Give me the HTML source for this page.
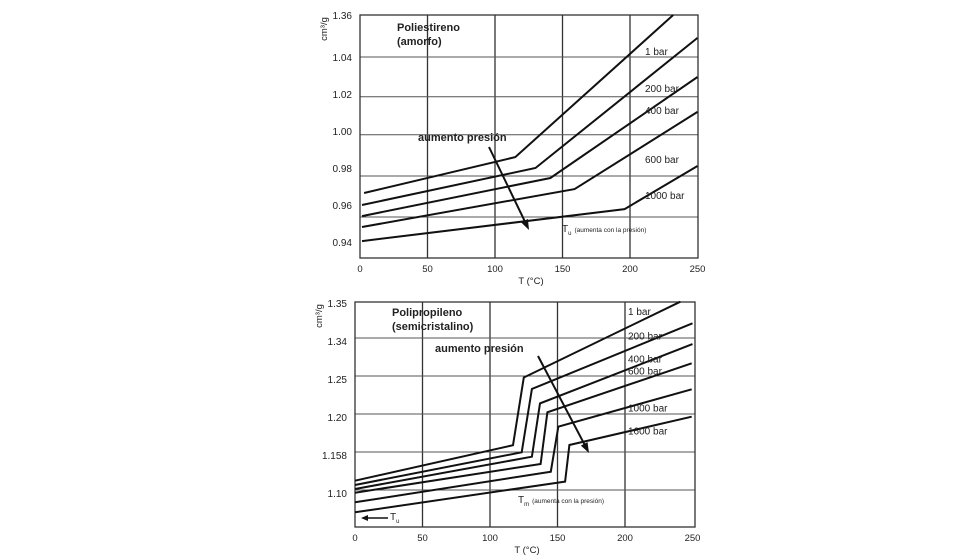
<!DOCTYPE html>
<html><head><meta charset="utf-8"><style>
html,body{margin:0;padding:0;background:#fff;}
svg{display:block;font-family:"Liberation Sans",sans-serif;}
</style></head><body>
<svg id="c" width="980" height="560" viewBox="0 0 980 560"></svg>
<script>
// ---- Top chart (Poliestireno) data ----
const psXTicks = [0, 50, 100, 150, 200, 250];
const psYTickValues = [0.94, 0.96, 0.98, 1.00, 1.02, 1.04, 1.0627];
const psYTickLabels = ["0.94", "0.96", "0.98", "1.00", "1.02", "1.04", "1.36"];
const psYGrid = [0.9535, 0.9757, 0.998, 1.0185, 1.04];
const psSeriesNames = ["1 bar", "200 bar", "400 bar", "600 bar", "1000 bar"];
const psSeriesT = [[3, 115, 232], [1.5, 130, 250], [1.5, 141, 250], [1.5, 159, 250], [1.5, 196, 250]];
const psSeriesV = [[0.9665, 0.9859, 1.0627], [0.960, 0.980, 1.0503], [0.954, 0.9746, 1.0292], [0.9481, 0.9686, 1.0103], [0.9405, 0.9578, 0.9811]];
const psLabelV = [1.0432, 1.0232, 1.0113, 0.9849, 0.9654];

// ---- Bottom chart (Polipropileno) data ----
const ppXTicks = [0, 50, 100, 150, 200, 250];
const ppYTickValues = [1.10, 1.15, 1.20, 1.25, 1.30, 1.35];
const ppYTickLabels = ["1.10", "1.158", "1.20", "1.25", "1.34", "1.35"];
const ppSeriesNames = ["1 bar", "200 bar", "400 bar", "600 bar", "1000 bar", "1600 bar"];
const ppSeriesT = [[0, 117, 125, 241], [0, 123.5, 131, 250], [0, 131, 137, 250], [0, 137.5, 142.5, 249.4], [0, 145, 150.6, 249.4], [0, 155.6, 158.8, 249.4]];
const ppSeriesV = [[1.1122, 1.159, 1.248, 1.3478], [1.1066, 1.1496, 1.2329, 1.3193], [1.1013, 1.1438, 1.214, 1.292], [1.0965, 1.1342, 1.2022, 1.2667], [1.0838, 1.1241, 1.1833, 1.2325], [1.0707, 1.111, 1.1592, 1.1965]];
const ppLabelV = [1.3352, 1.3036, 1.2733, 1.2575, 1.2088, 1.178];

const svg = document.getElementById('c');
const NS = 'http://www.w3.org/2000/svg';
function mk(tag, attrs, parent, text) {
  const e = document.createElementNS(NS, tag);
  for (const k in attrs) e.setAttribute(k, attrs[k]);
  if (text !== undefined) e.textContent = text;
  (parent || svg).appendChild(e);
  return e;
}

function drawChart(cfg) {
  const g = mk('g', {});
  
  
  const x = t => cfg.x0 + t * cfg.kx;
  const y = cfg.y;
  // gridlines
  cfg.xTicks.slice(1, -1).forEach(t => {
    const l = mk('line', {x1: x(t), x2: x(t), y1: cfg.top, y2: cfg.bottom, stroke: '#333', 'stroke-width': 1.3}, g);
    
    
  });
  cfg.yGrid.forEach(v => {
    const l = mk('line', {x1: cfg.left, x2: cfg.right, y1: y(v), y2: y(v), stroke: '#555', 'stroke-width': 1}, g);
    
    
  });
  const box = mk('rect', {x: cfg.left, y: cfg.top, width: cfg.right - cfg.left, height: cfg.bottom - cfg.top, fill: 'none', stroke: '#333', 'stroke-width': 1.3}, g);
  
  
  // x ticks
  cfg.xTicks.forEach(t => {
    const tx = mk('text', {x: x(t), y: cfg.xLabelY, 'font-size': 9.5, 'text-anchor': 'middle', fill: '#222'}, g, String(t));
    
    
  });
  const xt = mk('text', {x: (cfg.left + cfg.right) / 2 + 2, y: cfg.xLabelY + 12, 'font-size': 9.5, 'text-anchor': 'middle', fill: '#222'}, g, 'T (°C)');
  
  
  // y ticks
  cfg.yTickValues.forEach((v, i) => {
    const ty = mk('text', {x: cfg.left - 8, y: y(v) + cfg.yLabelDy, 'font-size': 10, 'text-anchor': 'end', fill: '#222'}, g, cfg.yTickLabels[i]);
    
    
  });
  const yt = mk('text', {x: 0, y: 0, 'font-size': 9.5, 'text-anchor': 'middle', fill: '#222', transform: `translate(${cfg.left - 33},${cfg.top + 14}) rotate(-90)`}, g);
  
  
  yt.textContent = 'cm³/g';
  // series
  cfg.seriesT.forEach((ts, i) => {
    const pts = ts.map((t, j) => x(t).toFixed(1) + ',' + y(cfg.seriesV[i][j]).toFixed(1)).join(' ');
    const p = mk('polyline', {points: pts, fill: 'none', stroke: '#111', 'stroke-width': 2, 'stroke-linejoin': 'miter'}, g);
    
    
    const lb = mk('text', {x: cfg.labelX, y: y(cfg.labelV[i]) + 4, 'font-size': 10, fill: '#222'}, g, cfg.seriesNames[i]);
    
    
  });
  // titles
  const t1 = mk('text', {x: cfg.titleX, y: cfg.titleY, 'font-size': 11, 'font-weight': 'bold', fill: '#222'}, g, cfg.title1);
  
  
  const t2 = mk('text', {x: cfg.titleX, y: cfg.titleY + 14, 'font-size': 11, 'font-weight': 'bold', fill: '#222'}, g, cfg.title2);
  
  
  // arrow annotation
  const ap = mk('text', {x: cfg.apX, y: cfg.apY, 'font-size': 11, 'font-weight': 'bold', fill: '#222'}, g, 'aumento presión');
  
  
  const [ax1, ay1, ax2, ay2] = cfg.arrow;
  const ang = Math.atan2(ay2 - ay1, ax2 - ax1);
  const al = mk('line', {x1: ax1, y1: ay1, x2: ax2 - 7 * Math.cos(ang), y2: ay2 - 7 * Math.sin(ang), stroke: '#111', 'stroke-width': 2}, g);
  
  
  const h = [[ax2, ay2], [ax2 - 11 * Math.cos(ang - 0.35), ay2 - 11 * Math.sin(ang - 0.35)], [ax2 - 11 * Math.cos(ang + 0.35), ay2 - 11 * Math.sin(ang + 0.35)]];
  const ah = mk('polygon', {points: h.map(p => p.join(',')).join(' '), fill: '#111'}, g);
  
  
  // transition note
  const tn = mk('text', {x: cfg.noteX, y: cfg.noteY, 'font-size': 10, fill: '#222'}, g);
  
  
  const a = mk('tspan', {}, tn, 'T');
  const b = mk('tspan', {'font-size': 6, dy: 3}, tn, cfg.noteSub);
  const c = mk('tspan', {'font-size': 6.5, dy: -3, dx: 3}, tn, '(aumenta con la presión)');
  return {g, x, y};
}

drawChart({
  name: 'polystyrene-chart', left: 360, right: 698, top: 15, bottom: 258,
  x0: 360, kx: 1.35, y: v => 242 - (v - 0.94) / 0.02 * 37,
  xTicks: psXTicks, yTickValues: psYTickValues, yTickLabels: psYTickLabels, yGrid: psYGrid,
  xLabelY: 272, yLabelDy: 4,
  seriesNames: psSeriesNames, seriesT: psSeriesT, seriesV: psSeriesV, labelV: psLabelV, labelX: 645,
  title1: 'Poliestireno', title2: '(amorfo)', titleX: 397, titleY: 31,
  apX: 418, apY: 141, arrow: [489, 147, 529, 230],
  noteX: 562, noteY: 232, noteSub: 'u'
});

const pp = drawChart({
  name: 'polypropylene-chart', left: 355, right: 695, top: 302, bottom: 527,
  x0: 355, kx: 1.35, y: v => 490 - (v - 1.10) * 760,
  xTicks: ppXTicks, yTickValues: ppYTickValues, yTickLabels: ppYTickLabels, yGrid: ppYTickValues.slice(0, 5),
  xLabelY: 541, yLabelDy: 7,
  seriesNames: ppSeriesNames, seriesT: ppSeriesT, seriesV: ppSeriesV, labelV: ppLabelV, labelX: 628,
  title1: 'Polipropileno', title2: '(semicristalino)', titleX: 392, titleY: 316,
  apX: 435, apY: 352, arrow: [538, 356, 589, 453],
  noteX: 518, noteY: 503, noteSub: 'm'
});
// Tu arrow at bottom-left
const tuL = mk('line', {x1: 388, y1: 518, x2: 366, y2: 518, stroke: '#111', 'stroke-width': 1.5});


const tuH = mk('polygon', {points: '361,518 368,515 368,521', fill: '#111'});


const tuT = mk('text', {x: 390, y: 520, 'font-size': 10, fill: '#222'});


mk('tspan', {}, tuT, 'T');
mk('tspan', {'font-size': 6, dy: 3}, tuT, 'u');
</script>
</body></html>
